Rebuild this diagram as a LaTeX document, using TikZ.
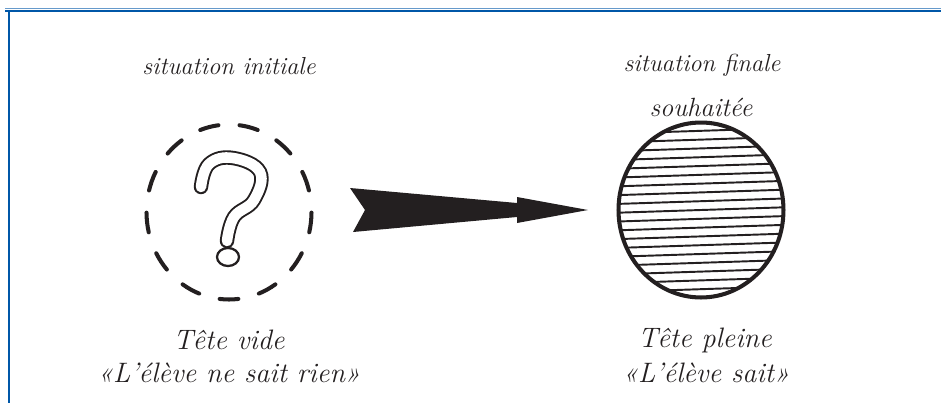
\documentclass[tikz,border=0pt]{standalone}
\usepackage{xcolor}
\definecolor{frameBlue}{HTML}{0057A8}
\definecolor{inkBlack}{HTML}{231F20}
\usetikzlibrary{calc,shapes.geometric}

\begin{document}
\begin{tikzpicture}[x=0.02cm,y=-0.02cm]
  \tikzset{
    cursivetext/.style={
      font=\itshape\fontsize{14}{17}\selectfont,
      text=inkBlack,
      inner sep=0pt,
    },
    bigcursive/.style={
      cursivetext,
      font=\itshape\fontsize{16}{19}\selectfont,
    },
    headshape/.style={
      ellipse,
      minimum width=3.3cm,
      minimum height=3.5cm,
      inner sep=0pt,
    },
  }

  \path[use as bounding box] (0,0) rectangle (941,403);
  \draw[frameBlue!60,line width=0.4pt] (5,8.5) -- (941,8.5);
  \draw[frameBlue,line width=1.7pt] (5,11) -- (941,11);
  \draw[frameBlue,line width=1.7pt] (9,11) -- (9,403);

  % left : empty head
  \node[cursivetext] (inittitle) at (229,66) {situation initiale};
  \node[headshape] (init) at (229,212) {};
  \foreach \a in {0,...,12}
    \draw[inkBlack,line width=2.3pt,line cap=round]
      ($(init.center)+({90+\a*27.69-6.5}:82.5 and 87.5)$)
      arc[start angle={90+\a*27.69-6.5},delta angle=13,x radius=82.5,y radius=87.5];
  \begin{scope}[shift={(init.center)}]
    \draw[inkBlack,line width=1.1pt,double=white,double distance=6pt,line cap=round]
      plot[smooth,tension=0.7] coordinates
      {(-28,-25) (-20,-48) (4,-54) (31,-40) (25,-12) (5,5) (-2,29)};
    \draw[inkBlack,line width=1.3pt] (-1,45) ellipse (11 and 9);
  \end{scope}
  \node[bigcursive] (initname) at (229,340) {Tête vide};
  \node[bigcursive] (initquote) at (229,373) {«L'élève ne sait rien»};

  % right : full head
  \node[cursivetext] (finaltitle) at (702,65) {situation finale};
  \node[cursivetext,font=\itshape\fontsize{15}{18}\selectfont] (finalwish) at (701,107) {souhaitée};
  \node[headshape,draw=inkBlack,line width=2.3pt,
        path picture={
          \foreach \i in {-9,...,9}
            \draw[inkBlack,line width=1.1pt]
              ($(path picture bounding box.center)+(-2cm,{\i*0.176cm-0.065cm})$)
              -- ++(4cm,0.13cm);
        }] (final) at (701,210) {};
  \node[bigcursive] (finalname) at (705,340) {Tête pleine};
  \node[bigcursive] (finalquote) at (706,373) {«L'élève sait»};

  % big arrow between the two heads
  \coordinate (tail) at (365,210);
  \coordinate (tip) at (588,210);
  \fill[inkBlack] ($(tail)+(-15,-22)$) -- ($(tip)+(-71,-7)$) -- ($(tip)+(-71,-13)$)
    -- (tip) -- ($(tip)+(-71,13)$) -- ($(tip)+(-71,7)$) -- ($(tail)+(-12,22)$)
    -- (tail) -- cycle;
\end{tikzpicture}
\end{document}
